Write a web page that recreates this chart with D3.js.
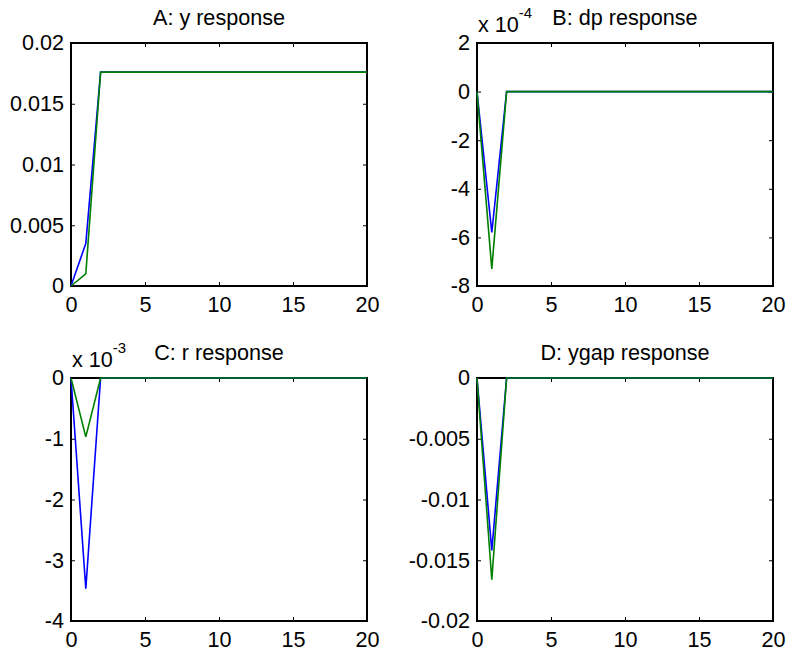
<!DOCTYPE html>
<html>
<head>
<meta charset="utf-8">
<script src="https://cdn.jsdelivr.net/npm/d3@7"></script>
<style>
  body { margin: 0; background: #fff; }
  svg { display: block; }
  text { font-family: "Liberation Sans", Arial, sans-serif; fill: #000; }
</style>
</head>
<body>
<div id="chart"></div>
<script>
// periods on the x axis
const periods = [0,1,2,3,4,5,6,7,8,9,10,11,12,13,14,15,16,17,18,19,20];

// A: y response
const yBlue  = [0,0.0035,0.0176,0.0176,0.0176,0.0176,0.0176,0.0176,0.0176,0.0176,0.0176,0.0176,0.0176,0.0176,0.0176,0.0176,0.0176,0.0176,0.0176,0.0176,0.0176];
const yGreen = [0,0.0010,0.0176,0.0176,0.0176,0.0176,0.0176,0.0176,0.0176,0.0176,0.0176,0.0176,0.0176,0.0176,0.0176,0.0176,0.0176,0.0176,0.0176,0.0176,0.0176];
// B: dp response
const dpBlue  = [0,-5.8e-4,0,0,0,0,0,0,0,0,0,0,0,0,0,0,0,0,0,0,0];
const dpGreen = [0,-7.3e-4,0,0,0,0,0,0,0,0,0,0,0,0,0,0,0,0,0,0,0];
// C: r response
const rBlue  = [0,-3.47e-3,0,0,0,0,0,0,0,0,0,0,0,0,0,0,0,0,0,0,0];
const rGreen = [0,-0.97e-3,0,0,0,0,0,0,0,0,0,0,0,0,0,0,0,0,0,0,0];
// D: ygap response
const ygapBlue  = [0,-0.0142,0,0,0,0,0,0,0,0,0,0,0,0,0,0,0,0,0,0,0];
const ygapGreen = [0,-0.0166,0,0,0,0,0,0,0,0,0,0,0,0,0,0,0,0,0,0,0];

// tick labels
const xTicks = [0,5,10,15,20];
const yTicksA = [0,0.005,0.01,0.015,0.02];
const yTicksB = [-8e-4,-6e-4,-4e-4,-2e-4,0,2e-4];
const yTicksC = [-4e-3,-3e-3,-2e-3,-1e-3,0];
const yTicksD = [-0.02,-0.015,-0.01,-0.005,0];

const titles = ["A: y response","B: dp response","C: r response","D: ygap response"];

const W = 787, H = 655;
const svg = d3.select("#chart").append("svg")
    .attr("width", W).attr("height", H);
svg.append("rect").attr("width", W).attr("height", H).attr("fill", "#fff");

// panel boxes (left, top) and shared size
const pw = 296, ph = 243;
const panels = [
  {left: 71,  top: 43,  title: titles[0], blue: yBlue,    green: yGreen,    ticks: yTicksA, exp: null},
  {left: 477, top: 43,  title: titles[1], blue: dpBlue,   green: dpGreen,   ticks: yTicksB, exp: -4},
  {left: 71,  top: 378, title: titles[2], blue: rBlue,    green: rGreen,    ticks: yTicksC, exp: -3},
  {left: 477, top: 378, title: titles[3], blue: ygapBlue, green: ygapGreen, ticks: yTicksD, exp: null}
];

const fontSize = 21.6;

panels.forEach(function(p) {
  const g = svg.append("g").attr("transform", `translate(${p.left},${p.top})`);

  const x = d3.scaleLinear().domain([0, 20]).range([0, pw]);
  const y = d3.scaleLinear().domain(d3.extent(p.ticks)).range([ph, 0]);

  const scale = p.exp === null ? 1 : Math.pow(10, p.exp);
  const fmt = function(t) { return String(+(t / scale).toFixed(6)); };

  // white plot area + box
  g.append("rect")
    .attr("width", pw).attr("height", ph)
    .attr("fill", "#fff").attr("stroke", "#000").attr("stroke-width", 2);

  // axes with inward ticks
  const xb = g.append("g").attr("transform", `translate(0,${ph})`)
    .call(d3.axisBottom(x).tickValues(xTicks).tickFormat(d3.format("d"))
      .tickSizeInner(-4).tickSizeOuter(0).tickPadding(11));
  const xt = g.append("g")
    .call(d3.axisTop(x).tickValues(xTicks).tickFormat("")
      .tickSizeInner(-4).tickSizeOuter(0));
  const yl = g.append("g")
    .call(d3.axisLeft(y).tickValues(p.ticks).tickFormat(fmt)
      .tickSizeInner(-4).tickSizeOuter(0).tickPadding(7));
  const yr = g.append("g").attr("transform", `translate(${pw},0)`)
    .call(d3.axisRight(y).tickValues(p.ticks).tickFormat("")
      .tickSizeInner(-4).tickSizeOuter(0));

  [xb, xt, yl, yr].forEach(function(a) {
    a.select(".domain").remove();
    a.selectAll("line").attr("stroke", "#000").attr("stroke-width", 1);
    a.selectAll("text")
      .style("font-family", '"Liberation Sans", Arial, sans-serif')
      .style("font-size", fontSize + "px")
      .attr("fill", "#000");
  });

  // lines: blue first, green on top
  const line = d3.line()
    .x(function(d, i) { return x(periods[i]); })
    .y(function(d) { return y(d); });

  g.append("path").datum(p.blue)
    .attr("fill", "none").attr("stroke", "#0000ff").attr("stroke-width", 1.6)
    .attr("d", line);
  g.append("path").datum(p.green)
    .attr("fill", "none").attr("stroke", "#008000").attr("stroke-width", 1.6)
    .attr("d", line);

  // title
  g.append("text")
    .attr("x", pw / 2).attr("y", -18)
    .attr("text-anchor", "middle")
    .style("font-size", fontSize + "px")
    .text(p.title);

  // exponent label
  if (p.exp !== null) {
    const e = g.append("text")
      .attr("x", 1).attr("y", -11)
      .style("font-size", fontSize + "px");
    e.append("tspan").text("x 10");
    e.append("tspan").attr("dy", -14).style("font-size", "15px").text(String(p.exp));
  }
});
</script>
</body>
</html>
